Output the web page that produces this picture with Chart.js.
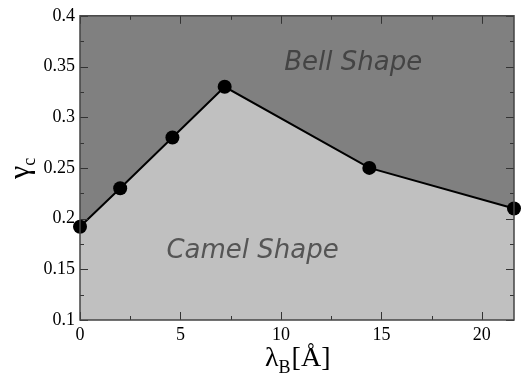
<!DOCTYPE html>
<html>
<head>
<meta charset="utf-8">
<script src="https://cdn.jsdelivr.net/npm/chart.js@4"></script>
<style>
  html, body { margin: 0; padding: 0; background: #fff; }
  #wrap { width: 521px; height: 375px; }
</style>
</head>
<body>
<div id="wrap"><canvas id="graficoFase"></canvas></div>
<script>
// data
const lambdaB = [0, 2, 4.6, 7.2, 14.4, 21.6];
const gammaC = [0.192, 0.23, 0.28, 0.33, 0.25, 0.21];
const xTicks = [0, 5, 10, 15, 20];
const yTicks = [0.1, 0.15, 0.2, 0.25, 0.3, 0.35, 0.4];
const regionLabels = ['Bell Shape', 'Camel Shape'];

const graficoFase = document.getElementById('graficoFase');

// dark background above the line + frame, inward ticks, titles, region labels
const desenhoExtra = {
  id: 'desenhoExtra',
  beforeDatasetsDraw(chart) {
    const { ctx, chartArea: a } = chart;
    ctx.save();
    ctx.fillStyle = '#808080';
    ctx.fillRect(a.left, a.top, a.right - a.left, a.bottom - a.top);
    ctx.restore();
  },
  afterDatasetsDraw(chart) {
    const { ctx, chartArea: a, scales } = chart;
    const x = scales.x, y = scales.y;
    ctx.save();

    // region labels
    ctx.font = 'oblique 26px "DejaVu Sans"';
    ctx.textBaseline = 'alphabetic';
    ctx.textAlign = 'center';
    ctx.fillStyle = '#444';
    ctx.fillText(regionLabels[0], x.getPixelForValue(13.6), y.getPixelForValue(0.347));
    ctx.textAlign = 'left';
    ctx.fillStyle = '#555';
    ctx.fillText(regionLabels[1], x.getPixelForValue(4.3), y.getPixelForValue(0.161));

    // ticks on all four sides
    ctx.strokeStyle = '#333';
    ctx.lineWidth = 1;
    ctx.beginPath();
    for (let v = 0; v <= x.max + 1e-9; v += 2.5) {
      const px = Math.round(x.getPixelForValue(v)) + 0.5;
      const len = (Math.abs(v % 5) < 1e-9) ? 8 : 4;
      ctx.moveTo(px, a.bottom); ctx.lineTo(px, a.bottom - len);
      ctx.moveTo(px, a.top); ctx.lineTo(px, a.top + len);
    }
    for (let i = 0; i <= 12; i++) {
      const v = 0.1 + i * 0.025;
      const py = Math.round(y.getPixelForValue(v)) + 0.5;
      const len = (i % 2 === 0) ? 8 : 4;
      ctx.moveTo(a.left, py); ctx.lineTo(a.left + len, py);
      ctx.moveTo(a.right, py); ctx.lineTo(a.right - len, py);
    }
    ctx.stroke();

    // frame
    ctx.strokeStyle = '#444';
    ctx.lineWidth = 1.5;
    ctx.strokeRect(a.left, a.top, a.right - a.left, a.bottom - a.top);
    ctx.restore();
  },
  afterDraw(chart) {
    const { ctx } = chart;
    ctx.save();
    ctx.fillStyle = '#000';
    ctx.textBaseline = 'alphabetic';
    ctx.textAlign = 'left';

    // x title: lambda_B [Å]
    let px = 265;
    ctx.font = '28px "Liberation Serif"';
    ctx.fillText('λ', px, 366);
    px += ctx.measureText('λ').width;
    ctx.font = '18px "Liberation Serif"';
    ctx.fillText('B', px, 373);
    px += ctx.measureText('B').width + 1;
    ctx.font = '28px "Liberation Serif"';
    ctx.fillText('[Å]', px, 366);

    // y title: gamma_c, rotated
    ctx.translate(29, 179);
    ctx.rotate(-Math.PI / 2);
    ctx.font = '30px "Liberation Serif"';
    ctx.fillText('γ', 0, 0);
    const w = ctx.measureText('γ').width;
    ctx.font = '18px "Liberation Serif"';
    ctx.fillText('c', w, 6);
    ctx.restore();
  }
};

new Chart(graficoFase, {
  type: 'line',
  data: {
    datasets: [{
      data: lambdaB.map((v, i) => ({ x: v, y: gammaC[i] })),
      borderColor: '#000',
      borderWidth: 2,
      backgroundColor: '#c0c0c0',
      fill: 'start',
      pointRadius: 7,
      pointBackgroundColor: '#000',
      pointBorderColor: '#000',
      pointBorderWidth: 0,
      tension: 0,
      clip: false
    }]
  },
  options: {
    responsive: true,
    maintainAspectRatio: false,
    animation: false,
    layout: { padding: { top: 14, right: 5, left: 0, bottom: 0 } },
    plugins: {
      legend: { display: false },
      tooltip: { enabled: false }
    },
    scales: {
      x: {
        type: 'linear',
        min: 0,
        max: 21.6,
        grid: { display: false, drawTicks: false },
        border: { display: false },
        afterBuildTicks: s => { s.ticks = xTicks.map(v => ({ value: v })); },
        afterFit: s => { s.height = 55; },
        ticks: {
          padding: 4,
          maxRotation: 0,
          color: '#000',
          font: { family: 'Liberation Serif', size: 18 },
          callback: v => String(v)
        }
      },
      y: {
        type: 'linear',
        min: 0.1,
        max: 0.4,
        grid: { display: false, drawTicks: false },
        border: { display: false },
        afterBuildTicks: s => { s.ticks = yTicks.map(v => ({ value: v })); },
        afterFit: s => { s.width = 80; },
        ticks: {
          padding: 5,
          color: '#000',
          font: { family: 'Liberation Serif', size: 18 },
          callback: v => String(+v.toFixed(2))
        }
      }
    }
  },
  plugins: [desenhoExtra]
});
</script>
</body>
</html>
